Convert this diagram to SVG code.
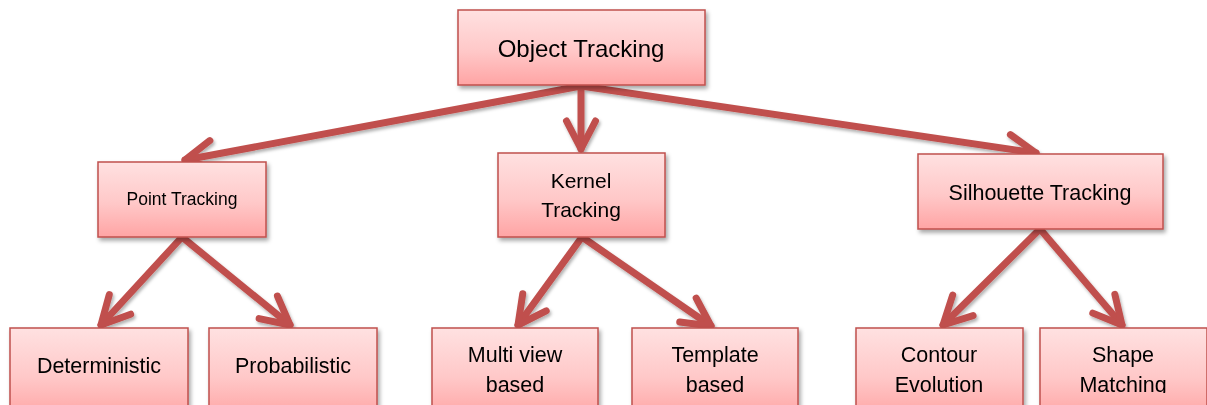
<svg xmlns="http://www.w3.org/2000/svg" width="1207" height="405" viewBox="0 0 1207 405">
  <style>
    .box { fill: url(#boxFill); stroke: #c0504d; stroke-width: 1.5; }
    .label { font-family: "Liberation Sans", Arial, sans-serif; fill: #000; text-anchor: middle; }
    .edge { fill: none; stroke: #c0504d; stroke-width: 7; stroke-linecap: round; marker-end: url(#chevron); }
  </style>
  <defs>
    <linearGradient id="boxFill" x1="0" y1="0" x2="0" y2="1">
      <stop offset="0" stop-color="#ffe1e1"/>
      <stop offset="0.55" stop-color="#ffc8c8"/>
      <stop offset="1" stop-color="#ffa4a4"/>
    </linearGradient>
    <filter id="shadow" x="-20%" y="-20%" width="140%" height="150%">
      <feDropShadow dx="2" dy="3" stdDeviation="2" flood-color="#000" flood-opacity="0.35"/>
    </filter>
    <filter id="edgeShadow" x="-10%" y="-10%" width="120%" height="130%">
      <feDropShadow dx="1.5" dy="2.5" stdDeviation="1.8" flood-color="#000" flood-opacity="0.3"/>
    </filter>
    <marker id="chevron" markerUnits="userSpaceOnUse" viewBox="-40 -22 48 44" refX="0" refY="0" markerWidth="48" markerHeight="44" orient="auto" overflow="visible">
      <path d="M -28,-14.5 L 0,0 L -28,14.5" fill="none" stroke="#c0504d" stroke-width="7" stroke-linecap="round" stroke-linejoin="round"/>
    </marker>
    <clipPath id="textInset">
      <rect x="0" y="0" width="1207" height="393"/>
    </clipPath>
  </defs>

  <!-- connectors -->
  <g id="connectors" filter="url(#edgeShadow)">
    <path class="edge" d="M 581,86 L 185,160"/>
    <path class="edge" d="M 581,86 L 581,149"/>
    <path class="edge" d="M 581,86 L 1036,153"/>
    <path class="edge" d="M 182,237 L 101,325"/>
    <path class="edge" d="M 182,237 L 290,325"/>
    <path class="edge" d="M 582,237 L 518,325"/>
    <path class="edge" d="M 582,237 L 711,326"/>
    <path class="edge" d="M 1040,229 L 943,325"/>
    <path class="edge" d="M 1040,229 L 1122,325"/>
  </g>

  <!-- root -->
  <g id="object-tracking" filter="url(#shadow)">
    <rect class="box" x="458" y="10" width="247" height="75"/>
    <text class="label" x="581" y="57" font-size="24">Object Tracking</text>
  </g>

  <!-- second level -->
  <g id="point-tracking" filter="url(#shadow)">
    <rect class="box" x="98" y="162" width="168" height="75"/>
    <text class="label" x="182" y="205" font-size="17.5">Point Tracking</text>
  </g>
  <g id="kernel-tracking" filter="url(#shadow)">
    <rect class="box" x="498" y="153" width="167" height="84"/>
    <text class="label" x="581" y="188" font-size="21">Kernel</text>
    <text class="label" x="581" y="217" font-size="21">Tracking</text>
  </g>
  <g id="silhouette-tracking" filter="url(#shadow)">
    <rect class="box" x="918" y="154" width="245" height="75"/>
    <text class="label" x="1040" y="200" font-size="21.5">Silhouette Tracking</text>
  </g>

  <!-- leaves -->
  <g id="deterministic" filter="url(#shadow)">
    <rect class="box" x="10" y="328" width="178" height="90"/>
    <text class="label" x="99" y="373" font-size="21.5">Deterministic</text>
  </g>
  <g id="probabilistic" filter="url(#shadow)">
    <rect class="box" x="209" y="328" width="168" height="90"/>
    <text class="label" x="293" y="373" font-size="21.5">Probabilistic</text>
  </g>
  <g id="multi-view" filter="url(#shadow)">
    <rect class="box" x="432" y="328" width="166" height="90"/>
    <g clip-path="url(#textInset)">
      <text class="label" x="515" y="362" font-size="21.5">Multi view</text>
      <text class="label" x="515" y="392" font-size="21.5">based</text>
    </g>
  </g>
  <g id="template" filter="url(#shadow)">
    <rect class="box" x="632" y="328" width="166" height="90"/>
    <g clip-path="url(#textInset)">
      <text class="label" x="715" y="362" font-size="21.5">Template</text>
      <text class="label" x="715" y="392" font-size="21.5">based</text>
    </g>
  </g>
  <g id="contour-evolution" filter="url(#shadow)">
    <rect class="box" x="856" y="328" width="167" height="90"/>
    <g clip-path="url(#textInset)">
      <text class="label" x="939" y="362" font-size="21.5">Contour</text>
      <text class="label" x="939" y="392" font-size="21.5">Evolution</text>
    </g>
  </g>
  <g id="shape-matching" filter="url(#shadow)">
    <rect class="box" x="1040" y="328" width="167" height="90"/>
    <g clip-path="url(#textInset)">
      <text class="label" x="1123" y="362" font-size="21.5">Shape</text>
      <text class="label" x="1123" y="392" font-size="21.5">Matching</text>
    </g>
  </g>
</svg>
